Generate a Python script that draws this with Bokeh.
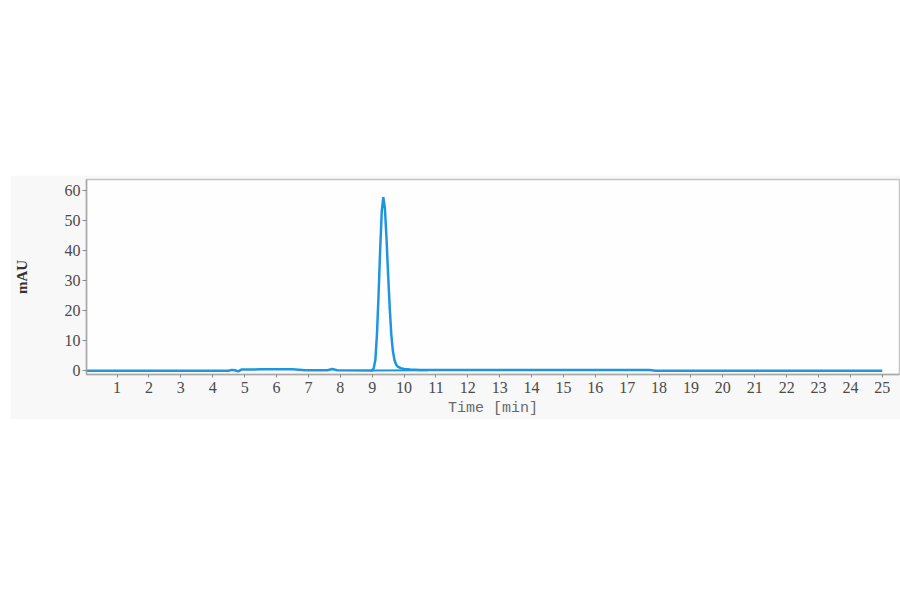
from bokeh.plotting import figure
from bokeh.models import FixedTicker, Range1d, Spacer
from bokeh.layouts import column, row
from bokeh.embed import file_html
from bokeh.resources import INLINE

# Chromatogram trace (time in min, absorbance in mAU)
time_min = [0.0, 4.5, 4.6, 4.7, 4.8, 4.9, 5.5, 6.5, 6.9, 7.6, 7.75, 7.9, 8.9, 9.0,
            9.05, 9.10, 9.15, 9.20, 9.25, 9.30, 9.35, 9.40, 9.45, 9.50, 9.55, 9.60,
            9.65, 9.70, 9.75, 9.80, 9.90, 10.0, 10.2, 10.5, 10.8, 17.7, 17.9, 25.0]
signal_mau = [-0.1, -0.1, 0.2, 0.1, -0.3, 0.3, 0.4, 0.4, 0.1, 0.1, 0.5, 0.1, 0.0, 0.0,
              0.8, 3.5, 12.0, 25.0, 40.0, 53.0, 57.8, 54.0, 44.0, 32.0, 21.0, 12.0,
              6.5, 3.5, 2.0, 1.3, 0.8, 0.5, 0.3, 0.2, 0.2, 0.2, -0.1, -0.1]

# Integration baseline under the peak
base_time = [8.95, 10.75]
base_mau = [0.0, 0.1]

x_ticks = list(range(1, 26))
y_ticks = [0, 10, 20, 30, 40, 50, 60]

LINE = "#1f95e0"

p = figure(width=890, height=244, output_backend="svg", toolbar_location=None,
           x_range=Range1d(0.04, 25.54), y_range=Range1d(-1.33, 63.67),
           min_border_left=76, min_border_right=1, min_border_top=4, min_border_bottom=45,
           background_fill_color="#fefefe", border_fill_color="#f8f8f8",
           outline_line_color="#c4c4c4", outline_line_width=1.5)

p.line(base_time, base_mau, line_color=LINE, line_width=2)
p.line(time_min, signal_mau, line_color=LINE, line_width=2.5)

p.xgrid.visible = False
p.ygrid.visible = False

p.xaxis.ticker = FixedTicker(ticks=x_ticks)
p.yaxis.ticker = FixedTicker(ticks=y_ticks)

for ax in (p.xaxis[0], p.yaxis[0]):
    ax.axis_line_color = "#a8a8a8"
    ax.axis_line_width = 1.5
    ax.major_tick_line_color = "#8a8a8a"
    ax.major_tick_in = 0
    ax.minor_tick_line_color = None
    ax.major_label_text_font = "Liberation Serif"
    ax.major_label_text_font_size = "16px"
    ax.major_label_text_color = "#4a4a4a"

p.xaxis.major_tick_out = 3
p.xaxis.major_label_standoff = 4
p.yaxis.major_tick_out = 4
p.yaxis.major_label_standoff = 2

p.xaxis.axis_label = "Time [min]"
p.xaxis.axis_label_text_font = "Liberation Mono"
p.xaxis.axis_label_text_font_size = "15px"
p.xaxis.axis_label_text_font_style = "normal"
p.xaxis.axis_label_text_color = "#6a6a6a"
p.xaxis.axis_label_standoff = 4

p.yaxis.axis_label = "mAU"
p.yaxis.axis_label_text_font = "Liberation Serif"
p.yaxis.axis_label_text_font_size = "15px"
p.yaxis.axis_label_text_font_style = "bold"
p.yaxis.axis_label_text_color = "#333333"
p.yaxis.axis_label_standoff = 32

layout = column(Spacer(height=175, width=900), row(Spacer(width=10, height=244), p))

open("out.html", "w").write(file_html(layout, INLINE))
